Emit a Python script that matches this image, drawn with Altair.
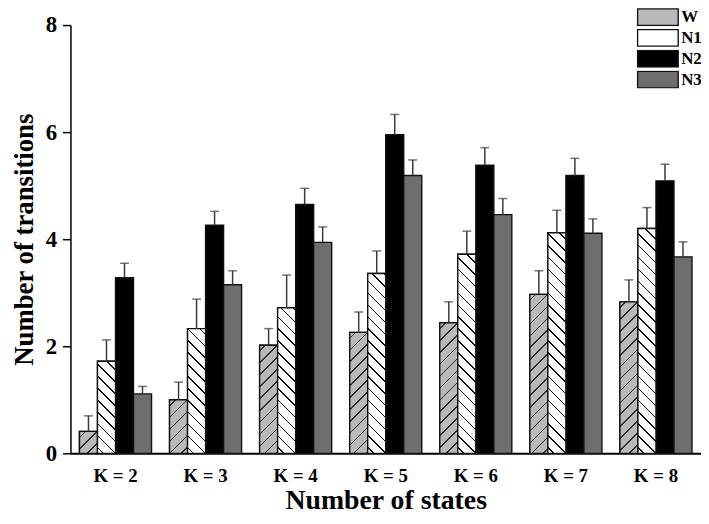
import altair as alt

# ---------------- data ----------------
groups = ["K = 2", "K = 3", "K = 4", "K = 5", "K = 6", "K = 7", "K = 8"]
series = ["W", "N1", "N2", "N3"]

w_vals = [0.41, 1.00, 2.02, 2.26, 2.44, 2.97, 2.83]
n1_vals = [1.72, 2.33, 2.72, 3.36, 3.72, 4.12, 4.20]
n2_vals = [3.28, 4.26, 4.65, 5.95, 5.38, 5.19, 5.09]
n3_vals = [1.11, 3.15, 3.94, 5.19, 4.46, 4.11, 3.67]

w_err = [0.29, 0.33, 0.31, 0.38, 0.39, 0.44, 0.41]
n1_err = [0.40, 0.55, 0.61, 0.42, 0.43, 0.42, 0.39]
n2_err = [0.27, 0.26, 0.30, 0.38, 0.33, 0.32, 0.31]
n3_err = [0.14, 0.26, 0.29, 0.29, 0.30, 0.27, 0.28]

y_ticks = [0, 2, 4, 6, 8]

# ---------------- styling / layout ----------------
PLOT_W, PLOT_H, Y_MAX = 636, 432, 8
PAD_IN, PAD_OUT = 0.2, 0.1
FONT = "Liberation Serif"
solid = ["#b9b9b9", "#ffffff", "#000000", "#6e6e6e"]
hatch_style = {"W": ("#b9b9b9", "#2a2a2a", "/"), "N1": ("#ffffff", "#111111", "\\")}

step = PLOT_W / (len(groups) - PAD_IN + 2 * PAD_OUT)
bar_w = step * (1 - PAD_IN) / len(series)


def hatch(value, bg, fg, direction, period=12.0, thick=1.6):
    """Diagonal hatch as a hard-stop linear gradient over the bar's box."""
    w = bar_w
    h = max(value / Y_MAX * PLOT_H, 1.0)
    a = h / w
    span = w + h
    k = span / (w + h * h / w)
    if direction == "/":
        x1, y1, x2, y2 = 0, 0, k, k * a
    else:
        x1, y1, x2, y2 = 0, 1, k, 1 - k * a
    p = period / span
    d = thick / 2 / span
    stops = [{"offset": 0, "color": bg}]
    t = p / 2
    while t + d < 1:
        stops += [
            {"offset": round(t - d, 6), "color": bg},
            {"offset": round(t - d, 6), "color": fg},
            {"offset": round(t + d, 6), "color": fg},
            {"offset": round(t + d, 6), "color": bg},
        ]
        t += p
    stops.append({"offset": 1, "color": bg})
    return {"gradient": "linear", "x1": x1, "y1": y1, "x2": x2 if x2 else 1e-6,
            "y2": y2, "stops": stops}


vals = {"W": w_vals, "N1": n1_vals, "N2": n2_vals, "N3": n3_vals}
errs = {"W": w_err, "N1": n1_err, "N2": n2_err, "N3": n3_err}

records = []
for s in series:
    for i, g in enumerate(groups):
        v = vals[s][i]
        rec = {"group": g, "series": s, "val": v, "top": round(v + errs[s][i], 3)}
        if s in hatch_style:
            bg, fg, dr = hatch_style[s]
            rec["grad"] = hatch(v, bg, fg, dr)
        records.append(rec)

data = alt.Data(values=records)

x_axis = alt.Axis(
    title="Number of states", labelAngle=0, ticks=False, tickSize=0,
    bandPosition=0.5, labelAlign="center",
    labelFont=FONT, labelFontWeight="bold", labelFontSize=19, labelColor="black",
    labelPadding=13, titleFont=FONT, titleFontWeight="bold", titleFontSize=28,
    titleColor="black", titlePadding=2, domainColor="black", domainWidth=2,
)
x_enc = alt.X(
    "group:N",
    sort=groups,
    scale=alt.Scale(paddingInner=PAD_IN, paddingOuter=PAD_OUT),
    axis=x_axis,
)
xo_enc = alt.XOffset("series:N", sort=series, scale=alt.Scale(domain=series))
y_enc = alt.Y(
    "val:Q",
    stack=None,
    scale=alt.Scale(domain=[0, Y_MAX], nice=False),
    axis=alt.Axis(
        title="Number of transitions", values=y_ticks, grid=False,
        labelFont=FONT, labelFontWeight="bold", labelFontSize=23, labelColor="black",
        labelPadding=6, tickSize=8, tickColor="black", tickWidth=1.5,
        domainColor="black", domainWidth=1.5, titleFont=FONT, titleFontWeight="bold",
        titleFontSize=27, titleColor="black", titlePadding=7,
    ),
)

bars = alt.Chart(data).mark_bar(stroke="#111111", strokeWidth=1.4).encode(
    x=x_enc,
    xOffset=xo_enc,
    y=y_enc,
    color=alt.Color(
        "series:N",
        sort=series,
        scale=alt.Scale(domain=series, range=solid),
        legend=alt.Legend(
            title=None, orient="none", legendX=571, legendY=-17,
            symbolType="M-1,-0.41L1,-0.41L1,0.41L-1,0.41Z", symbolSize=1681,
            symbolStrokeColor="#111111", symbolStrokeWidth=1.4, symbolOpacity=1,
            labelFont=FONT, labelFontWeight="bold", labelFontSize=17,
            labelColor="black", labelOffset=2, clipHeight=18, rowPadding=3,
            padding=0,
        ),
    ),
)

hatched = alt.Chart(data).mark_bar(stroke="#111111", strokeWidth=1.4).encode(
    x=x_enc,
    xOffset=xo_enc,
    y=y_enc,
    fill=alt.Fill("grad:N", scale=None),
).transform_filter(alt.FieldOneOfPredicate(field="series", oneOf=["W", "N1"]))

err_rule = alt.Chart(data).mark_rule(color="#3a3a3a", strokeWidth=1.5).encode(
    x=x_enc,
    xOffset=xo_enc,
    y=y_enc,
    y2="top:Q",
)

err_cap = alt.Chart(data).mark_tick(color="#3a3a3a", thickness=1.5, size=9).encode(
    x=x_enc,
    xOffset=xo_enc,
    y=alt.Y("top:Q", stack=None),
)

chart = (
    alt.layer(bars, hatched, err_rule, err_cap)
    .properties(
        width=PLOT_W,
        height=PLOT_H,
        autosize=alt.AutoSizeParams(type="none"),
        padding={"left": 63, "top": 15, "right": 0, "bottom": 61},
        background="white",
    )
    .configure_view(stroke=None)
)

chart.save("out.html", embed_options={"renderer": "svg", "actions": False})
